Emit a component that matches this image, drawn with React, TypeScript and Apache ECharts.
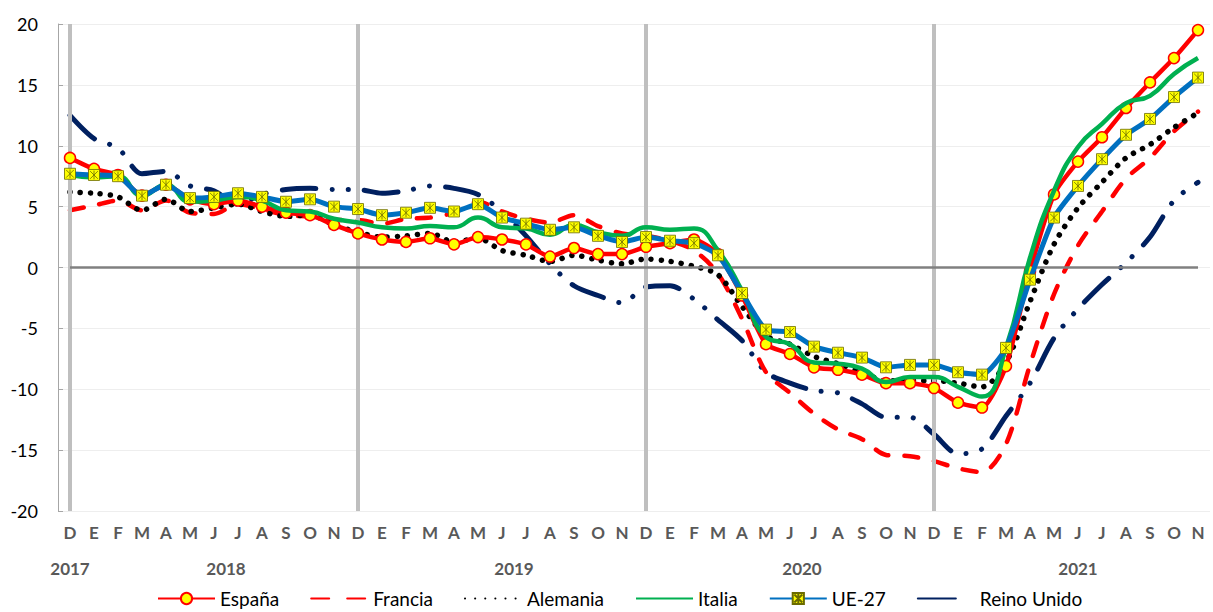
import React, { useEffect, useRef } from "react";
import * as echarts from "echarts";

const months = [
  "D",
  "E", "F", "M", "A", "M", "J", "J", "A", "S", "O", "N", "D",
  "E", "F", "M", "A", "M", "J", "J", "A", "S", "O", "N", "D",
  "E", "F", "M", "A", "M", "J", "J", "A", "S", "O", "N", "D",
  "E", "F", "M", "A", "M", "J", "J", "A", "S", "O", "N",
];

const yearLabels = ["2017", "2018", "2019", "2020", "2021"];
const yearStart = [0, 1, 13, 25, 37];
const yearEnd = [0, 12, 24, 36, 47];
const decemberIdx = [0, 12, 24, 36];

const espana = [9.0, 8.1, 7.6, 5.9, 6.8, 5.6, 5.2, 5.5, 5.0, 4.5, 4.3, 3.5, 2.8, 2.3, 2.1, 2.4, 1.9, 2.5, 2.3, 1.9, 0.9, 1.6, 1.1, 1.1, 1.7, 2.0, 2.3, 1.1, -2.3, -6.3, -7.1, -8.2, -8.4, -8.8, -9.5, -9.5, -9.9, -11.1, -11.5, -8.1, -0.3, 6.0, 8.7, 10.7, 13.1, 15.2, 17.2, 19.5];
const francia = [4.7, 5.1, 5.5, 4.7, 5.5, 4.5, 4.4, 5.2, 4.8, 4.3, 4.2, 3.9, 3.9, 3.6, 4.0, 4.1, 4.5, 5.4, 4.6, 4.0, 3.7, 4.3, 3.4, 2.8, 2.6, 2.2, 1.4, -0.5, -4.2, -8.6, -10.3, -12.0, -13.3, -14.1, -15.4, -15.5, -15.9, -16.5, -16.8, -14.5, -8.0, -2.2, 1.8, 4.6, 7.3, 9.0, 11.2, 12.8];
const alemania = [6.2, 6.1, 5.8, 4.7, 5.6, 4.6, 4.9, 5.2, 4.6, 4.2, 4.3, 3.5, 2.9, 2.5, 2.6, 2.8, 2.1, 2.4, 1.4, 1.0, 0.5, 1.0, 0.6, 0.3, 0.7, 0.5, 0.1, -0.6, -3.2, -5.6, -6.3, -7.3, -7.9, -8.6, -9.3, -9.3, -9.3, -9.5, -9.8, -7.8, -2.8, 1.9, 4.9, 7.0, 9.0, 10.1, 11.5, 12.7];
const italia = [7.6, 7.4, 7.5, 5.9, 6.8, 5.4, 5.5, 5.8, 5.5, 4.7, 4.6, 4.0, 3.7, 3.3, 3.2, 3.4, 3.3, 4.1, 3.3, 3.2, 2.7, 3.5, 2.9, 2.6, 3.3, 3.1, 3.2, 1.4, -1.9, -5.7, -6.3, -7.8, -7.9, -8.3, -9.4, -9.0, -9.0, -9.8, -10.6, -6.6, 0.8, 6.3, 9.9, 11.8, 13.5, 14.1, 15.9, 17.2];
const ue27 = [7.7, 7.6, 7.5, 5.9, 6.8, 5.7, 5.8, 6.1, 5.8, 5.4, 5.6, 5.0, 4.8, 4.3, 4.5, 4.9, 4.6, 5.2, 4.1, 3.6, 3.1, 3.3, 2.6, 2.1, 2.5, 2.2, 2.0, 1.0, -2.1, -5.1, -5.3, -6.5, -7.0, -7.4, -8.2, -8.0, -8.0, -8.6, -8.8, -6.6, -1.0, 4.1, 6.7, 8.9, 10.9, 12.2, 14.0, 15.6];
const reinoUnido = [12.5, 10.6, 9.8, 7.7, 7.9, 6.7, 6.3, 5.2, 6.0, 6.4, 6.5, 6.4, 6.4, 6.1, 6.3, 6.7, 6.5, 6.0, 4.6, 2.6, 0.3, -1.5, -2.3, -2.9, -1.6, -1.5, -2.6, -4.3, -6.0, -8.6, -9.5, -10.1, -10.3, -11.2, -12.3, -12.3, -13.7, -15.3, -14.9, -12.2, -9.5, -5.8, -3.4, -1.4, 0.4, 2.5, 5.5, 7.0];

const FONT = "Lato, 'Noto Sans', sans-serif";
const UE_SYMBOL = "path://M0,0L10,0L10,10L0,10Z M1.5,1.5L8.5,8.5 M8.5,1.5L1.5,8.5 M5,1L5,9";

export default function App() {
  const ref = useRef<HTMLDivElement>(null);

  useEffect(() => {
    if (!ref.current) return;
    const chart = echarts.init(ref.current, undefined, { renderer: "svg" });

    // secondary axis: half-band positions for centered year labels
    const halfSlots = Array.from({ length: months.length * 2 + 1 }, (_, k) => String(k));
    const yearAt: Record<number, string> = {};
    yearLabels.forEach((y, i) => {
      yearAt[yearStart[i] + yearEnd[i] + 1] = y;
    });

    const hidden = { opacity: 0 };

    const option: any = {
      animation: false,
      backgroundColor: "#ffffff",
      grid: { left: 58, right: 0, top: 24, bottom: 101, containLabel: false },
      legend: {
        data: [
          { name: "España" },
          { name: "Francia", itemStyle: hidden, lineStyle: { type: [18, 18] } },
          { name: "Alemania", itemStyle: hidden },
          { name: "Italia", itemStyle: hidden },
          { name: "UE-27" },
          { name: "Reino Unido", itemStyle: hidden, lineStyle: { type: [38, 100] } },
        ],
        left: 152,
        top: 584,
        itemWidth: 57,
        itemHeight: 14,
        itemGap: 31,
        textStyle: { fontFamily: FONT, fontSize: 19, color: "#000000", padding: [0, 0, 0, 0] },
      },
      xAxis: [
        {
          type: "category",
          data: months,
          boundaryGap: true,
          axisLine: { show: false },
          axisTick: { show: false },
          splitLine: { show: false },
          axisLabel: {
            interval: 0,
            margin: 13,
            fontFamily: FONT,
            fontSize: 17,
            fontWeight: "bold",
            color: "#595959",
          },
        },
        {
          type: "category",
          data: halfSlots,
          boundaryGap: false,
          position: "bottom",
          offset: 36,
          axisLine: { show: false },
          axisTick: { show: false },
          splitLine: { show: false },
          axisLabel: {
            interval: 0,
            margin: 13,
            fontFamily: FONT,
            fontSize: 17,
            fontWeight: "bold",
            color: "#595959",
            formatter: (_v: string, idx: number) => yearAt[idx] || "",
          },
        },
      ],
      yAxis: {
        type: "value",
        min: -20,
        max: 20,
        interval: 5,
        axisLine: { show: true, lineStyle: { color: "#a6a6a6", width: 1 } },
        axisTick: { show: true, inside: true, length: 5, lineStyle: { color: "#a6a6a6" } },
        splitLine: { show: true, lineStyle: { color: "#eeeeee", width: 1 } },
        axisLabel: { fontFamily: FONT, fontSize: 18, color: "#000000", margin: 20 },
      },
      series: [
        {
          name: "_grid",
          type: "line",
          data: months.map(() => null),
          z: 1,
          silent: true,
          symbol: "none",
          markLine: {
            silent: true,
            symbol: "none",
            label: { show: false },
            data: [
              ...decemberIdx.map((i) => ({
                xAxis: i,
                lineStyle: { color: "#bfbfbf", width: 4, type: "solid" },
              })),
              [
                { coord: [0, 0], lineStyle: { color: "#808080", width: 2.5, type: "solid" } },
                { coord: [months.length - 1, 0] },
              ],
            ],
          },
        },
        {
          name: "Reino Unido",
          type: "line",
          data: reinoUnido,
          smooth: 0.3,
          symbol: "none",
          z: 2,
          color: "#002060",
          lineStyle: { color: "#002060", width: 5, type: [34, 16, 0.1, 16, 0.1, 16], cap: "round" },
        },
        {
          name: "Francia",
          type: "line",
          data: francia,
          smooth: 0.3,
          symbol: "none",
          z: 3,
          color: "#ff0000",
          lineStyle: { color: "#ff0000", width: 4.5, type: [14, 16], cap: "round" },
        },
        {
          name: "Alemania",
          type: "line",
          data: alemania,
          smooth: 0.3,
          symbol: "none",
          z: 4,
          color: "#000000",
          lineStyle: { color: "#000000", width: 5.5, type: [0.1, 10], cap: "round" },
        },
        {
          name: "España",
          type: "line",
          data: espana,
          smooth: 0.2,
          symbol: "circle",
          symbolSize: 11,
          z: 5,
          color: "#ff0000",
          itemStyle: { color: "#ffff00", borderColor: "#ff0000", borderWidth: 1.5 },
          lineStyle: { color: "#ff0000", width: 4.5 },
        },
        {
          name: "Italia",
          type: "line",
          data: italia,
          smooth: 0.5,
          symbol: "none",
          z: 6,
          color: "#00b050",
          lineStyle: { color: "#00b050", width: 4.5 },
        },
        {
          name: "UE-27",
          type: "line",
          data: ue27,
          smooth: 0.2,
          symbol: UE_SYMBOL,
          symbolSize: 11,
          z: 7,
          color: "#0070c0",
          itemStyle: { color: "#ffff00", borderColor: "#6b6b00", borderWidth: 0.8 },
          lineStyle: { color: "#0070c0", width: 5 },
        },
      ],
    };

    chart.setOption(option);
    return () => chart.dispose();
  }, []);

  return (
    <div
      ref={ref}
      style={{ position: "absolute", left: 0, top: 0, width: 1213, height: 612, background: "#fff" }}
    />
  );
}
